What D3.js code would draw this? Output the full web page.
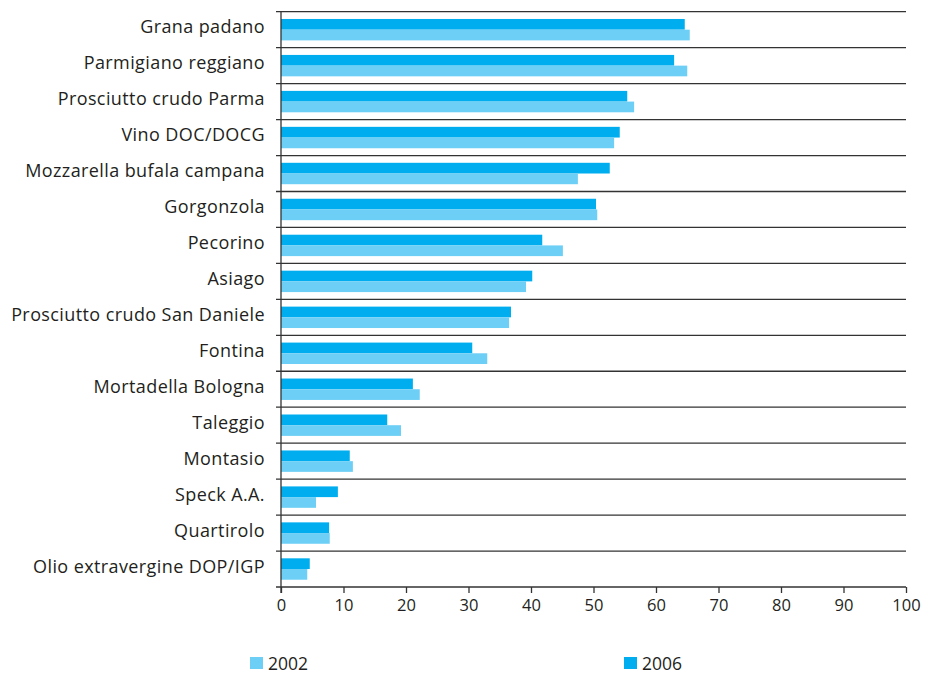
<!DOCTYPE html>
<html>
<head>
<meta charset="utf-8">
<script src="https://cdn.jsdelivr.net/npm/d3@7"></script>
<style>
  html, body { margin: 0; padding: 0; background: #fff; }
  svg text { font-family: "Open Sans", "Noto Sans", sans-serif; fill: #231f20; }
</style>
</head>
<body>
<svg id="chart" width="930" height="673"></svg>
<script>
// Products (top to bottom)
const categories = [
  "Grana padano", "Parmigiano reggiano", "Prosciutto crudo Parma", "Vino DOC/DOCG",
  "Mozzarella bufala campana", "Gorgonzola", "Pecorino", "Asiago",
  "Prosciutto crudo San Daniele", "Fontina", "Mortadella Bologna", "Taleggio",
  "Montasio", "Speck A.A.", "Quartirolo", "Olio extravergine DOP/IGP"
];
// Values per series
const values2006 = [64.6, 62.9, 55.4, 54.2, 52.6, 50.4, 41.8, 40.2, 36.8, 30.6, 21.1, 17.0, 11.0, 9.1, 7.7, 4.6];
const values2002 = [65.4, 65.0, 56.5, 53.3, 47.5, 50.6, 45.1, 39.2, 36.5, 33.0, 22.2, 19.2, 11.5, 5.6, 7.8, 4.2];
const xTicks = [0, 10, 20, 30, 40, 50, 60, 70, 80, 90, 100];
const seriesNames = ["2002", "2006"];
const colors = { "2002": "#6dcff6", "2006": "#00aeef" };

const svg = d3.select("#chart");
const plotLeft = 281, plotRight = 906, plotTop = 11.7, plotBottom = 587;

const x = d3.scaleLinear().domain([0, 100]).range([plotLeft, plotRight]);
const y = d3.scaleBand().domain(categories).range([plotTop, plotBottom]);
const sub = d3.scaleBand().domain(["2006", "2002"]).range([0, y.bandwidth()]).paddingOuter(0.68).paddingInner(0);

// Row separators
svg.append("g").selectAll("line")
  .data(categories.map(c => y(c)).concat([plotBottom]))
  .join("line")
  .attr("x1", plotLeft - 5).attr("x2", plotRight)
  .attr("y1", d => d).attr("y2", d => d)
  .attr("stroke", "#333").attr("stroke-width", 1.3);

// Bars
const rows = svg.append("g").selectAll("g")
  .data(categories.map((c, i) => ({ c, v2006: values2006[i], v2002: values2002[i] })))
  .join("g")
  .attr("transform", d => `translate(0,${y(d.c)})`);

rows.append("rect")
  .attr("x", x(0)).attr("y", sub("2006"))
  .attr("width", d => x(d.v2006) - x(0)).attr("height", sub.bandwidth())
  .attr("fill", colors["2006"]);
rows.append("rect")
  .attr("x", x(0)).attr("y", sub("2002"))
  .attr("width", d => x(d.v2002) - x(0)).attr("height", sub.bandwidth())
  .attr("fill", colors["2002"]);

// Category labels
svg.append("g").selectAll("text")
  .data(categories)
  .join("text")
  .attr("x", 265)
  .attr("y", d => y(d) + y.bandwidth() / 2 - 1)
  .attr("text-anchor", "end")
  .attr("dominant-baseline", "middle")
  .attr("font-size", 18)
  .attr("letter-spacing", 0.4)
  .text(d => d);

// Vertical axis line
svg.append("line")
  .attr("x1", plotLeft).attr("x2", plotLeft).attr("y1", plotTop).attr("y2", plotBottom + 6)
  .attr("stroke", "#333").attr("stroke-width", 1.3);

// Bottom axis
const xAxis = d3.axisBottom(x).tickValues(xTicks).tickSize(6).tickPadding(6).tickFormat(d3.format("d"));
const gx = svg.append("g").attr("transform", `translate(0,${plotBottom})`).call(xAxis);
gx.select(".domain").remove();
gx.selectAll(".tick line").attr("stroke", "#333").attr("stroke-width", 1.3);
gx.selectAll(".tick text").attr("font-size", 16.5).attr("fill", "#231f20")
  .style("font-family", "'Open Sans', 'Noto Sans', sans-serif");

// Legend
const legendPos = { "2002": 250, "2006": 624 };
const lg = svg.append("g").selectAll("g").data(seriesNames).join("g")
  .attr("transform", d => `translate(${legendPos[d]},657)`);
lg.append("rect").attr("width", 13).attr("height", 12).attr("fill", d => colors[d]);
lg.append("text").attr("x", 18).attr("y", 12.5).attr("font-size", 17.5).text(d => d);
</script>
</body>
</html>
